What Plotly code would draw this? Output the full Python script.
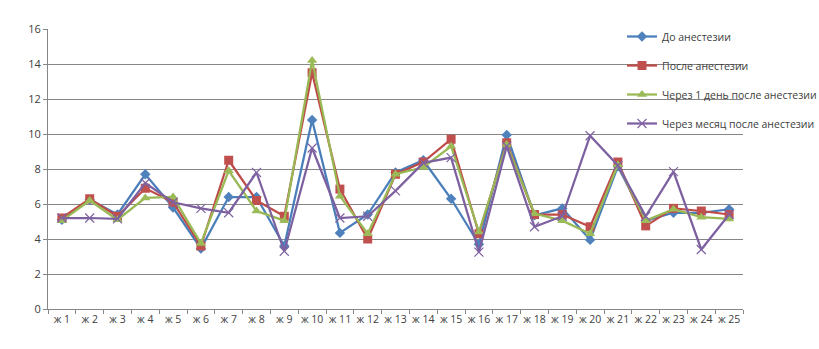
import plotly.graph_objects as go

categories = [f"ж {i}" for i in range(1, 26)]

before = [5.1, 6.25, 5.4, 7.7, 5.8, 3.45, 6.4, 6.4, 3.6, 10.8, 4.35, 5.4, 7.8, 8.5, 6.3,
          3.7, 9.95, 5.35, 5.75, 3.95, 8.15, 5.05, 5.5, 5.5, 5.7]
after = [5.2, 6.3, 5.3, 6.9, 6.1, 3.6, 8.5, 6.2, 5.3, 13.5, 6.85, 4.0, 7.7, 8.4, 9.7,
         4.3, 9.5, 5.4, 5.4, 4.7, 8.4, 4.75, 5.75, 5.6, 5.4]
day1 = [5.05, 6.2, 5.1, 6.35, 6.4, 3.75, 7.9, 5.6, 5.05, 14.2, 6.45, 4.3, 7.7, 8.1, 9.3,
        4.4, 9.4, 5.45, 5.05, 4.3, 8.25, 5.05, 5.7, 5.25, 5.15]
month1 = [5.2, 5.2, 5.15, 7.2, 6.1, 5.75, 5.5, 7.8, 3.3, 9.2, 5.2, 5.3, 6.75, 8.35, 8.65,
          3.25, 9.3, 4.7, 5.3, 9.9, 8.2, 5.3, 7.85, 3.4, 5.4]

names = ["До анестезии", "После анестезии", "Через 1 день после анестезии",
         "Через месяц после анестезии"]
series = [before, after, day1, month1]
line_colors = ["#4A7EBB", "#BE4B48", "#98B954", "#7D60A0"]
marker_colors = ["#4F81BD", "#C0504D", "#9BBB59", "#8064A2"]
symbols = ["diamond", "square", "triangle-up", "x-thin-open"]
sizes = [8, 9, 9, 9]

fig = go.Figure()
for i, (nm, ys) in enumerate(zip(names, series)):
    mk = dict(symbol=symbols[i], size=sizes[i], color=marker_colors[i])
    if symbols[i] == "x-thin-open":
        mk["line"] = dict(color=marker_colors[i], width=1.2)
    fig.add_trace(go.Scatter(
        x=categories, y=ys, name=nm, mode="lines+markers",
        line=dict(color=line_colors[i], width=2.25),
        marker=mk, legendgroup=f"g{i}",
    ))

fig.update_layout(
    width=819, height=349,
    margin=dict(l=48, r=76, t=29, b=40, autoexpand=False),
    paper_bgcolor="white", plot_bgcolor="white",
    font=dict(family="Open Sans, Liberation Sans, sans-serif", size=11, color="#404040"),
    legend=dict(
        x=(622 - 48) / 695, xanchor="left", y=1.025, yanchor="top",
        bgcolor="rgba(0,0,0,0)", font=dict(size=10.5, color="#404040"),
        tracegroupgap=10, traceorder="grouped", itemwidth=30,
    ),
    showlegend=True,
)
fig.update_xaxes(
    type="category", showgrid=False, showline=True, linecolor="#868686", linewidth=1,
    ticks="outside", tickson="boundaries", ticklen=4, tickcolor="#868686",
    tickangle=0, tickfont=dict(size=10.5, color="#404040"), range=[-0.5, 24.5],
)
fig.update_yaxes(
    range=[0, 16], dtick=2, showgrid=True, gridcolor="#868686", gridwidth=1,
    showline=True, linecolor="#868686", linewidth=1, ticks="outside", ticklen=4,
    tickcolor="#868686", zeroline=False, tickfont=dict(size=11, color="#404040"),
)

fig.write_html("out.html")
